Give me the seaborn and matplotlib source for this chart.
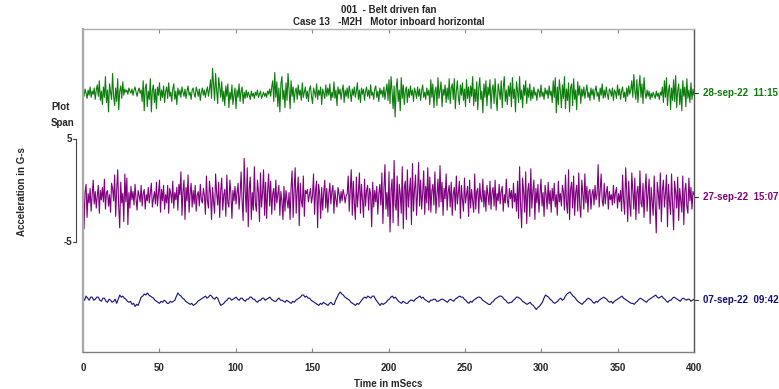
import numpy as np
import pandas as pd
import matplotlib
matplotlib.use("Agg")
import matplotlib.pyplot as plt
import seaborn as sns

# ---------------- data (acceleration in G-s) ----------------
trace_labels = ["28-sep-22  11:15", "27-sep-22  15:07", "07-sep-22  09:42"]
trace_colors = ["#0b7d0b", "#800080", "#10107e"]
trace_offsets = [10.0, 0.0, -10.0]

green_g = [
    0.1,-0.3,0.4,0.0,-0.5,0.3,-0.2,0.6,-0.4,0.2,-0.1,0.5,-0.6,0.3,0.8,-0.3,1.2,-0.7,0.2,-1.1,
    0.6,-0.4,1.6,-0.9,0.3,-1.8,0.9,0.1,-0.6,1.9,-0.3,-1.2,0.5,-0.8,1.4,-1.6,0.2,0.7,-0.5,1.1,
    -0.2,0.4,0.1,0.3,-0.1,0.5,0.2,0.0,0.4,-0.2,0.3,0.6,0.1,-0.3,0.2,0.5,0.0,0.3,-0.8,1.2,
    -1.7,0.5,0.9,-1.3,0.2,-0.6,1.4,-1.8,0.3,0.8,-0.9,0.4,-1.5,0.6,-0.2,1.0,-0.7,0.3,-0.4,0.7,
    -0.9,0.2,0.6,-0.5,1.0,-0.3,0.1,-0.8,0.4,0.9,-0.6,0.2,-1.1,0.5,-0.2,0.3,-0.4,0.6,0.1,-0.3,
    0.4,-0.5,0.2,0.7,-0.2,0.1,-0.6,0.3,0.5,-0.1,-0.4,0.6,0.2,-0.3,0.4,-0.7,0.1,0.5,-0.2,0.3,
    -0.4,0.2,0.6,-0.3,0.4,1.3,-0.5,2.4,0.8,-0.7,1.9,0.3,-1.0,1.5,0.6,-0.4,1.1,-0.8,0.2,-1.2,
    0.7,-0.3,0.9,-1.4,0.1,-0.6,0.8,-1.1,-0.2,0.5,-1.5,0.3,-0.4,0.9,-0.8,0.2,0.6,-1.0,0.1,-0.5,
    0.3,-0.4,0.1,-0.2,-0.6,0.2,-0.3,0.0,-0.5,0.1,-0.2,0.3,-0.4,-0.1,0.2,-0.5,-0.2,0.1,-0.3,0.0,
    -0.4,0.2,-0.1,0.4,-0.3,0.6,1.2,-0.8,2.0,-0.4,1.1,-1.3,0.5,-1.8,0.9,1.6,-0.6,0.3,-1.4,1.0,
    -0.7,1.9,0.4,-1.5,1.2,-0.3,0.6,-0.9,0.2,0.5,-0.6,0.8,-0.2,0.3,-0.7,1.0,-0.4,0.1,0.6,-0.5,
    0.2,-0.8,0.4,0.7,-0.3,-1.0,0.5,0.1,-0.4,0.9,-0.6,0.3,-0.2,0.6,-1.1,0.4,0.0,-0.5,0.8,-0.3,
    0.5,-0.2,0.9,-0.7,0.1,-0.4,1.1,-0.5,0.3,-1.2,0.6,-0.1,0.4,-0.6,0.2,0.8,-0.9,0.3,-0.3,0.5,
    -0.5,0.7,0.1,-0.8,0.4,-0.2,0.6,-0.4,0.2,1.0,-0.6,0.3,-0.9,0.5,-0.1,0.4,-0.7,0.2,0.6,-0.3,
    0.3,-0.5,0.8,-0.2,0.1,-0.6,0.4,0.7,-0.4,0.2,-0.8,0.5,-0.1,0.3,-0.4,0.6,-0.6,0.2,0.9,-0.7,
    1.3,-1.0,1.6,0.2,-1.5,0.7,-2.3,0.4,1.4,-0.8,0.3,-1.7,1.5,-0.5,0.8,-1.1,0.2,0.6,-0.9,0.4,
    -0.4,0.7,-0.2,0.3,-0.8,0.5,0.1,-0.5,0.6,-0.3,0.4,-0.7,0.2,0.8,-0.4,0.1,-0.6,0.5,-0.2,0.3,
    -1.1,1.3,-0.4,0.9,-1.4,0.2,0.6,-1.2,1.5,-0.5,0.3,1.1,-1.3,0.4,-0.2,0.8,-0.9,0.5,-0.6,1.4,
    -1.0,0.5,0.9,-0.6,1.4,-1.5,0.2,1.2,-0.4,-1.1,0.8,-0.2,1.0,-0.7,0.4,-1.3,1.3,-0.5,0.6,-0.9,
    0.7,-0.3,1.6,-1.2,0.4,-0.8,1.1,-1.6,0.5,1.5,-0.6,0.2,-1.9,0.9,-0.4,1.2,-1.2,0.6,-0.2,1.3,
    -1.5,0.3,0.8,-1.0,1.4,-0.4,-1.7,0.9,0.2,-0.6,1.2,-1.4,0.5,1.6,-0.8,0.3,-1.1,0.7,-0.3,1.0,
    -1.3,1.5,-0.5,0.4,-1.8,1.1,0.2,-0.9,1.6,-0.6,0.3,-1.4,0.8,-0.2,1.2,-1.0,0.5,-0.4,0.9,-0.7,
    0.3,-0.5,0.6,-0.2,0.1,-0.7,0.4,0.2,-0.4,0.8,-0.3,0.1,-0.6,0.5,-0.1,0.3,-0.5,0.7,-0.2,0.2,
    -0.9,1.2,-0.4,1.5,-1.9,0.6,-1.1,1.3,0.2,-1.4,0.8,-0.5,1.6,-1.5,0.4,-0.7,1.0,-1.8,0.5,0.9,
    -1.2,1.4,-0.6,0.3,-1.6,1.1,-0.2,0.7,-1.0,0.4,-0.3,0.6,-0.5,0.2,0.8,-0.4,0.1,-0.7,0.5,-0.2,
    0.4,-0.6,0.2,0.7,-0.3,0.1,-0.8,0.5,-0.2,0.9,-0.5,0.3,-0.4,0.6,-0.1,-0.6,0.4,0.2,-0.3,0.5,
    -0.7,0.3,0.1,-0.5,0.8,-0.2,0.4,-0.6,0.2,0.6,-0.4,0.1,-0.8,0.5,-0.3,0.7,-0.1,0.3,1.2,-0.4,
    1.8,0.2,-0.6,1.3,-0.9,0.5,1.7,-0.4,0.9,-1.0,1.5,0.1,-0.5,0.3,-0.3,0.2,-0.6,0.0,-0.4,0.1,
    -0.2,-0.5,0.2,-0.3,0.0,-0.6,0.1,-0.2,0.6,-0.9,1.2,-0.4,1.5,-1.2,0.3,0.8,-1.6,0.5,-0.7,1.3,
    -0.8,1.7,-1.4,0.2,0.9,-1.1,0.4,-1.7,1.2,-0.3,0.6,-1.3,1.4,-0.5,0.3,-0.9,1.0,-0.6,0.4,-0.2,
]

purple_g = [
    2.6,-3.1,0.4,1.2,-2.0,0.3,-0.6,0.8,-1.4,0.2,1.6,-0.7,0.5,-1.1,0.1,1.1,-1.6,0.6,-0.3,0.9,
    -0.5,1.7,-1.2,0.4,0.6,-0.9,0.2,-1.5,1.3,0.8,-0.4,2.1,-1.9,0.6,2.6,-1.0,-3.0,1.4,-0.6,0.3,
    -2.4,2.2,-0.5,1.8,-2.7,0.4,-1.1,1.0,-0.3,0.5,-0.8,1.2,-0.2,-1.3,0.6,0.1,-0.5,1.1,-0.9,0.3,
    0.7,-1.2,0.2,-0.4,0.9,-0.6,0.4,1.3,-1.0,-0.2,0.5,-0.7,1.4,-0.9,0.3,1.6,-1.5,0.7,-0.4,1.1,
    -1.2,0.2,-0.6,1.1,-1.6,0.8,0.3,-0.6,1.5,-1.1,0.4,-0.3,0.9,-1.3,1.2,0.2,2.4,-1.8,0.5,1.6,
    -2.2,0.9,-0.4,2.1,-1.5,0.3,1.3,-1.0,0.6,-0.7,1.1,-1.4,0.2,0.5,-0.9,1.2,-0.3,-0.6,0.8,0.1,
    -1.7,2.0,-0.4,-1.1,1.5,0.3,-2.2,0.9,-0.5,-1.6,2.2,0.4,-0.8,1.4,-2.0,0.6,1.8,-1.3,0.2,0.7,
    -1.9,2.1,-0.6,-1.0,1.6,0.3,-2.1,0.6,-0.4,1.0,-0.7,0.4,1.3,-1.2,0.2,2.4,-0.5,-2.3,3.7,0.6,
    -1.5,2.8,-2.9,0.8,1.9,-2.2,0.4,-1.3,2.9,-0.7,-1.4,1.6,0.5,-2.4,2.3,-1.0,0.3,2.6,-1.8,1.4,
    -2.1,0.6,2.2,-0.9,1.5,-1.7,0.3,0.8,-1.3,1.6,-0.6,0.2,1.1,-1.8,0.5,-0.4,-2.2,1.0,-1.4,0.6,
    -0.3,-1.1,0.4,-2.2,0.9,2.5,-2.0,0.7,2.8,-1.6,0.5,1.9,-2.8,1.3,-0.4,-1.0,2.0,-1.9,0.6,0.3,
    0.7,-0.5,0.2,0.8,-0.6,0.1,2.2,-1.7,0.6,1.5,-3.0,1.2,0.3,-2.1,0.9,-1.3,0.4,1.6,-1.1,0.8,
    -1.5,0.2,1.3,-0.7,0.5,1.1,-1.6,0.6,-0.3,-1.0,0.9,0.3,-0.6,0.5,-0.4,0.7,0.2,-0.6,0.1,0.3,
    2.0,-1.4,0.5,2.6,-1.8,1.5,-0.6,-2.2,1.9,-1.0,0.4,2.3,-1.6,1.2,-0.3,-2.0,1.7,-0.9,0.6,1.1,
    -1.3,0.8,0.2,-2.9,1.4,-1.0,0.6,-0.5,1.0,-1.7,0.3,1.2,-0.8,2.3,-2.6,0.7,3.1,-1.2,0.4,-1.9,
    2.4,-3.4,0.6,1.7,-2.5,3.5,-0.8,-1.3,2.0,-2.8,1.2,0.3,-1.6,2.9,-3.1,0.9,1.5,-2.2,2.6,-1.0,
    0.5,1.8,-2.7,3.2,-1.4,0.7,2.1,-1.8,0.4,3.3,-0.9,1.6,-1.2,0.3,2.5,-1.7,1.0,-0.6,2.8,-1.3,
    1.9,-1.5,0.6,1.2,-0.8,2.4,-1.6,0.2,1.7,-1.0,3.0,-0.5,1.4,-1.8,0.8,-0.2,2.2,-1.3,0.5,1.1,
    -1.0,1.4,-1.8,0.3,0.9,-1.3,2.0,-0.7,0.4,1.5,-2.1,1.1,-0.3,-1.4,1.8,-0.6,0.2,1.0,-1.9,1.6,
    -1.1,0.7,-0.4,-1.5,2.2,-1.2,0.5,0.8,-1.6,1.3,-0.2,-0.5,1.7,-1.0,0.6,-1.4,1.1,0.2,-0.8,1.5,
    -1.2,0.4,0.9,-0.9,1.6,-1.3,0.3,-0.4,1.2,-0.7,0.5,1.0,-1.4,0.2,-0.6,1.7,-0.3,-1.0,0.8,-0.2,
    0.6,-1.1,1.3,-0.5,0.3,-1.4,1.5,-2.1,2.9,-0.8,-3.0,1.8,0.4,-1.5,2.4,-2.6,0.6,1.3,-1.9,2.7,
    -1.1,0.5,1.6,-2.2,0.8,-0.6,1.2,-1.5,0.3,1.7,-0.9,0.4,-1.9,1.1,0.2,-1.2,1.4,-0.7,0.6,-1.5,
    0.8,-0.4,1.3,-1.0,0.2,-1.8,1.5,-0.5,0.3,-0.9,1.1,0.5,-1.3,2.1,-0.6,-1.6,2.6,-2.2,0.7,1.4,
    -1.1,2.0,-1.8,0.4,1.1,-1.4,2.3,-0.9,-2.0,1.6,0.3,-1.2,2.2,-0.6,1.0,-1.5,0.5,0.7,-1.2,0.3,
    0.7,-0.8,1.1,-0.3,0.2,3.1,-1.0,0.6,2.2,-0.4,-0.9,1.3,-0.7,0.4,1.0,-1.2,0.5,-0.3,0.2,-0.8,
    1.1,-0.6,0.4,0.9,-1.1,0.3,-0.5,0.6,-1.4,2.1,-0.4,-1.7,2.8,0.5,-2.4,1.5,-0.8,-1.9,2.3,0.6,
    -1.2,1.8,-2.2,0.4,1.0,-1.6,2.5,-0.6,-1.0,1.3,-2.0,0.5,2.2,-1.4,0.3,1.7,-2.6,0.9,-0.4,-1.8,
    2.0,-0.7,-3.5,1.4,0.4,-1.2,2.3,-2.4,0.6,1.6,-1.0,0.3,2.1,-2.9,1.2,-0.5,-1.7,2.2,-0.8,-3.2,
    1.5,0.4,-1.1,1.9,-2.3,0.8,-0.3,-1.5,2.0,-2.7,0.6,1.3,-0.9,-1.6,1.8,-0.4,0.9,-1.2,0.5,0.2,
]

blue_g = [
    0.2,0.0,0.4,0.2,0.0,0.3,0.3,0.0,0.1,0.3,0.3,0.0,-0.1,0.2,0.2,-0.1,-0.2,0.1,0.0,-0.2,
    -0.1,0.1,-0.3,0.1,0.5,0.3,0.4,0.2,0.1,-0.1,-0.2,-0.1,-0.4,-0.3,-0.6,-0.4,-0.5,-0.1,0.3,0.4,
    0.6,0.5,0.7,0.5,0.4,0.3,0.2,0.0,-0.1,-0.2,-0.3,-0.1,-0.2,0.0,-0.1,-0.3,-0.3,-0.1,-0.2,-0.1,
    0.0,0.4,0.7,0.5,0.4,0.2,0.1,-0.1,-0.2,-0.3,-0.4,-0.3,-0.5,-0.4,-0.3,-0.1,0.0,0.1,0.2,0.3,
    0.4,0.2,0.3,0.5,0.4,0.2,0.1,0.3,0.2,-0.2,-0.5,-0.4,-0.3,-0.1,0.0,0.2,0.2,0.0,0.1,0.2,
    0.3,0.1,0.0,0.2,0.2,0.0,-0.1,0.1,0.1,0.3,0.3,0.1,0.1,-0.1,-0.2,0.0,0.0,0.2,0.2,0.0,
    0.1,0.2,0.3,0.1,0.0,-0.1,-0.1,0.1,0.2,0.0,0.0,-0.1,-0.2,0.0,-0.1,-0.2,-0.3,-0.1,-0.2,0.0,
    0.1,0.2,0.3,0.5,0.5,0.3,0.4,0.2,0.2,0.0,-0.1,-0.2,-0.3,-0.4,-0.5,-0.3,-0.4,-0.2,-0.3,-0.4,
    -0.5,-0.3,-0.2,-0.4,-0.4,0.0,0.3,0.6,0.8,0.6,0.5,0.3,0.2,0.1,0.0,-0.2,-0.3,-0.4,-0.5,-0.3,
    -0.4,-0.2,0.0,0.2,0.3,0.2,0.4,0.3,0.2,0.4,0.4,0.1,-0.1,-0.3,-0.5,-0.3,-0.4,-0.3,-0.2,0.0,
    0.1,0.3,0.4,0.2,0.3,0.1,-0.1,-0.2,-0.3,-0.1,-0.2,-0.3,-0.3,-0.1,0.0,0.0,-0.1,0.1,0.2,0.3,
    0.4,0.2,0.3,0.1,0.0,-0.1,-0.2,0.0,0.0,0.1,0.1,-0.1,-0.1,0.0,0.1,0.1,0.0,-0.1,-0.2,0.0,
    0.1,0.0,-0.1,0.1,0.2,0.3,0.4,0.3,0.3,0.1,0.0,-0.2,-0.3,-0.1,-0.2,0.0,0.1,0.2,0.3,0.3,
    0.2,0.0,-0.1,-0.2,-0.3,-0.4,-0.4,-0.2,-0.1,0.1,0.2,0.3,0.4,0.4,0.3,0.1,0.0,-0.2,-0.3,-0.2,
    -0.2,0.0,0.1,0.3,0.3,0.2,0.1,-0.1,-0.2,-0.3,-0.4,-0.3,-0.2,-0.4,-0.5,-0.7,-0.9,-0.7,-0.6,-0.4,
    -0.2,0.2,0.5,0.4,0.3,0.1,0.0,-0.2,-0.3,-0.2,-0.1,0.1,0.2,0.0,0.1,0.4,0.6,0.7,0.8,0.6,
    0.4,0.3,0.1,-0.1,-0.2,-0.3,-0.4,-0.2,-0.1,0.1,0.2,0.1,0.0,-0.2,-0.3,-0.1,-0.2,0.0,0.1,0.2,
    0.3,0.2,0.1,-0.1,-0.2,-0.1,-0.3,-0.1,0.0,0.1,0.2,0.3,0.4,0.2,0.1,0.0,-0.1,-0.2,-0.3,-0.3,
    -0.4,-0.2,-0.1,0.1,0.2,0.1,0.0,-0.1,-0.2,0.0,0.1,0.2,0.3,0.4,0.5,0.3,0.2,0.3,0.4,0.2,
    0.1,-0.1,-0.2,0.0,0.0,0.2,0.3,0.2,0.1,0.0,-0.1,0.1,0.2,0.1,0.0,0.1,0.1,-0.1,0.0,0.1,
]

x_ticks = [0, 50, 100, 150, 200, 250, 300, 350, 400]
span_ticks = ["5", "-5"]

# ---------------- figure ----------------
sns.set_style("white")
plt.rcParams["font.family"] = ["Liberation Sans", "DejaVu Sans"]
plt.rcParams["font.weight"] = "bold"

W, H = 779, 389
fig = plt.figure(figsize=(W / 100, H / 100), dpi=100)
ax = fig.add_axes([83 / W, 1 - 352 / H, (694 - 83) / W, (352 - 29) / H])

frames = []
for name, vals, off in zip(trace_labels, [green_g, purple_g, blue_g], trace_offsets):
    vals = np.asarray(vals, dtype=float)
    frames.append(pd.DataFrame({
        "t": np.linspace(0, 400, len(vals)),
        "g": vals + off,
        "trace": name,
    }))
df = pd.concat(frames, ignore_index=True)

sns.lineplot(data=df, x="t", y="g", hue="trace", hue_order=trace_labels,
             palette=dict(zip(trace_labels, trace_colors)), estimator=None,
             sort=False, linewidth=0.8, legend=False, ax=ax)

ax.set_xlim(0, 400)
ax.set_ylim(-15.0, 16.2)
ax.set_xticks(x_ticks)
ax.set_xticklabels([str(v) for v in x_ticks], fontsize=7, fontweight="bold")
ax.tick_params(axis="x", direction="in", length=3, width=0.8, color="#888888",
               top=True, bottom=True, pad=8)
ax.set_yticks(trace_offsets)
ax.set_yticklabels([])
ax.tick_params(axis="y", left=True, right=True, direction="out", length=0, width=0.8)
ax.set_xlabel("Time in mSecs", fontsize=7, fontweight="bold", labelpad=4)
ax.set_ylabel("")

for side, col, lw in [("left", "#a8a8a8", 1.6), ("top", "#b0b0b0", 1.0),
                      ("right", "#555555", 1.0), ("bottom", "#808080", 1.0)]:
    ax.spines[side].set_color(col)
    ax.spines[side].set_linewidth(lw)
    ax.spines[side].set_visible(True)

# right-side small ticks and trace labels
for name, col, off in zip(trace_labels, trace_colors, trace_offsets):
    ax.plot([400, 402.5], [off, off], color="#333333", lw=0.8, clip_on=False)
    ax.text(406, off, name, color=col, fontsize=7, fontweight="bold",
            va="center", ha="left", clip_on=False)

# plot span scale bar
tr = ax.get_yaxis_transform()
bx = -7 / 611
bar_top, bar_bot = 5.57, -4.38
ax.plot([bx, bx], [bar_top, bar_bot], color="#444444", lw=0.8, transform=tr, clip_on=False)
for yv, lab in zip([bar_top, bar_bot], span_ticks):
    ax.plot([bx - 3 / 611, bx], [yv, yv], color="#444444", lw=0.8, transform=tr, clip_on=False)
    ax.text(bx - 4 / 611, yv, lab, fontsize=7, fontweight="bold", ha="right", va="center",
            transform=tr, clip_on=False)
fig.text(51 / W, 1 - 107 / H, "Plot", fontsize=7, fontweight="bold", ha="left", va="center")
fig.text(51 / W, 1 - 123 / H, "Span", fontsize=7, fontweight="bold", ha="left", va="center")
fig.text(22 / W, 1 - 192 / H, "Acceleration in G-s", fontsize=7, fontweight="bold",
         rotation=90, ha="center", va="center")

# titles
cx = (83 + 694) / 2 / W
fig.text(cx, 1 - 10 / H, "001  - Belt driven fan", fontsize=7, fontweight="bold",
         ha="center", va="center")
fig.text(cx, 1 - 22 / H, "Case 13   -M2H   Motor inboard horizontal", fontsize=7,
         fontweight="bold", ha="center", va="center")

fig.savefig("out.png", dpi=100)
